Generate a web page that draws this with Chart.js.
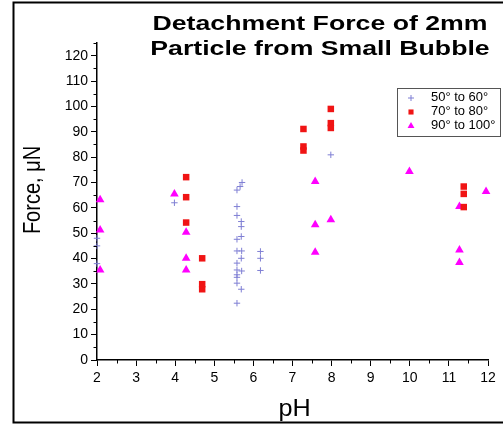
<!DOCTYPE html>
<html><head><meta charset="utf-8">
<script src="https://cdn.jsdelivr.net/npm/chart.js@4/dist/chart.umd.min.js"></script>
<style>html,body{margin:0;padding:0;background:#fff;}canvas{display:block}</style>
</head><body>
<canvas id="c" width="503" height="425"></canvas>
<script>
// ---- data ----
const seriesLabels = ['50\u00b0 to 60\u00b0', '70\u00b0 to 80\u00b0', '90\u00b0 to 100\u00b0'];
const phA = [2.0, 2.0, 2.0, 3.98, 5.71, 5.66, 5.58, 5.58, 5.58, 5.69, 5.69, 5.69, 5.58, 5.58, 5.70, 5.69, 5.58, 5.58, 5.70, 5.58, 5.58, 5.58, 5.69, 5.58, 6.18, 6.18, 6.18, 7.98];
const forceA = [48, 45, 38, 62, 70, 68.4, 67, 60.5, 57, 54.6, 52.6, 48.7, 47.6, 43, 43, 40.1, 38.2, 35.5, 35.1, 33.6, 32.6, 30.3, 27.9, 22.4, 42.8, 40.1, 35.3, 80.9];
const phB = [4.28, 4.28, 4.28, 4.69, 4.69, 4.69, 7.28, 7.28, 7.28, 7.98, 7.98, 7.98, 11.38, 11.38, 11.38];
const forceB = [72.1, 64.2, 54.2, 40.1, 29.9, 27.9, 91.1, 84.2, 82.6, 99.0, 93.4, 91.5, 68.4, 65.5, 60.3];
const phC = [2.08, 2.08, 2.08, 3.98, 4.28, 4.28, 4.28, 7.58, 7.58, 7.58, 7.98, 9.99, 11.27, 11.27, 11.27, 11.95];
const forceC = [63.2, 51.3, 35.5, 65.5, 50.4, 40.1, 35.5, 70.4, 53.3, 42.5, 55.3, 74.3, 60.5, 43.4, 38.4, 66.4];
const titleLines = ['Detachment Force of 2mm', 'Particle from Small Bubble'];
const xTitle = 'pH';
const yTitle = 'Force, \u03bcN';

const FONT = "Arial, 'Liberation Sans', sans-serif";
const SX = 1.27;
const toPts = (xs, ys) => xs.map((x, i) => ({x: x, y: ys[i]}));

function sText(ctx, txt, x, y, font, sx, align, baseline, rot) {
  ctx.save();
  ctx.translate(x, y);
  ctx.scale(sx, 1);
  if (rot) ctx.rotate(rot);
  ctx.font = font; ctx.textAlign = align; ctx.textBaseline = baseline;
  ctx.fillStyle = '#000';
  ctx.fillText(txt, 0, 0);
  ctx.restore();
}

const framePlugin = {
  id: 'frame',
  beforeDraw(chart) {
    const ctx = chart.ctx;
    ctx.save();
    ctx.fillStyle = '#fff';
    ctx.fillRect(0, 0, chart.width, chart.height);
    ctx.strokeStyle = '#000'; ctx.lineWidth = 2;
    ctx.beginPath();
    ctx.moveTo(504, 2.5); ctx.lineTo(13.5, 2.5); ctx.lineTo(13.5, 422.5); ctx.lineTo(504, 422.5);
    ctx.stroke();
    ctx.restore();
  }
};

const overlayPlugin = {
  id: 'overlay',
  afterDraw(chart) {
    const ctx = chart.ctx;
    const xs = chart.scales.x, ys = chart.scales.y, ca = chart.chartArea;
    // minor ticks
    ctx.save();
    ctx.strokeStyle = '#000'; ctx.lineWidth = 1;
    ctx.beginPath();
    for (let v = 5; v <= 125; v += 10) {
      const py = Math.round(ys.getPixelForValue(v)) + 0.5;
      ctx.moveTo(ca.left - 3.5, py); ctx.lineTo(ca.left, py);
    }
    for (let v = 2.5; v < 12; v += 1) {
      const px = Math.round(xs.getPixelForValue(v)) + 0.5;
      ctx.moveTo(px, ca.bottom); ctx.lineTo(px, ca.bottom + 3.5);
    }
    ctx.stroke();
    ctx.restore();
    // titles
    sText(ctx, titleLines[0], 320, 30, 'bold 21px ' + FONT, SX, 'center', 'alphabetic');
    sText(ctx, titleLines[1], 320, 55, 'bold 21px ' + FONT, SX, 'center', 'alphabetic');
    sText(ctx, yTitle, 33, 190, '20px ' + FONT, 1.2, 'center', 'middle', -Math.PI / 2);
    sText(ctx, xTitle, (ca.left + ca.right) / 2 + 2, 416, '24px ' + FONT, 1.05, 'center', 'alphabetic');
    // legend
    const lx = 397.5, ly = 88.5, lw = 103, lh = 48;
    ctx.save();
    ctx.strokeStyle = '#555'; ctx.lineWidth = 1;
    ctx.strokeRect(lx, ly, lw, lh);
    ctx.restore();
    const rowY = [98, 112, 126];
    const syms = [
      {pointStyle: 'cross', radius: 3, borderWidth: 1, rotation: 0},
      {pointStyle: 'rect', radius: 3.6, borderWidth: 0, rotation: 0},
      {pointStyle: 'triangle', radius: 4, borderWidth: 0, rotation: 0}
    ];
    chart.data.datasets.forEach((ds, i) => {
      ctx.save();
      ctx.fillStyle = ds.backgroundColor; ctx.strokeStyle = ds.borderColor; ctx.lineWidth = 1;
      Chart.helpers.drawPoint(ctx, syms[i], 411, rowY[i]);
      ctx.restore();
      sText(ctx, ds.label, 431, rowY[i], '12px ' + FONT, 1.08, 'left', 'middle');
    });
  }
};

new Chart(document.getElementById('c'), {
  type: 'scatter',
  data: {
    datasets: [
      {label: seriesLabels[0], data: toPts(phA, forceA), pointStyle: 'cross', pointRadius: 3.2,
       borderColor: '#7f7fd4', backgroundColor: '#7f7fd4', borderWidth: 1, clip: false},
      {label: seriesLabels[1], data: toPts(phB, forceB), pointStyle: 'rect', pointRadius: 4.6,
       borderColor: '#f01414', backgroundColor: '#f01414', borderWidth: 0, clip: false},
      {label: seriesLabels[2], data: toPts(phC, forceC), pointStyle: 'triangle', pointRadius: 5,
       borderColor: '#ff00ff', backgroundColor: '#ff00ff', borderWidth: 0, clip: false}
    ]
  },
  options: {
    responsive: false,
    animation: false,
    devicePixelRatio: 1,
    layout: {padding: {left: 0, right: 15, top: 43, bottom: 0}},
    plugins: {legend: {display: false}, title: {display: false}, tooltip: {enabled: false}},
    scales: {
      x: {
        type: 'linear', position: 'bottom', min: 2, max: 12,
        ticks: {stepSize: 1, includeBounds: false, color: '#000', padding: 4, maxRotation: 0,
                font: {family: FONT, size: 14}},
        grid: {drawOnChartArea: false, drawTicks: true, tickLength: 6, tickColor: '#000', tickWidth: 1},
        border: {display: true, color: '#000', width: 1.5},
        afterFit(s) { s.height = 65; }
      },
      y: {
        type: 'linear', position: 'left', min: 0, max: 125,
        ticks: {stepSize: 10, includeBounds: false, color: '#000', padding: 3,
                font: {family: FONT, size: 14}},
        grid: {drawOnChartArea: false, drawTicks: true, tickLength: 6, tickColor: '#000', tickWidth: 1},
        border: {display: true, color: '#000', width: 1.5},
        afterFit(s) { s.width = 97; }
      }
    }
  },
  plugins: [framePlugin, overlayPlugin]
});
</script></body></html>
